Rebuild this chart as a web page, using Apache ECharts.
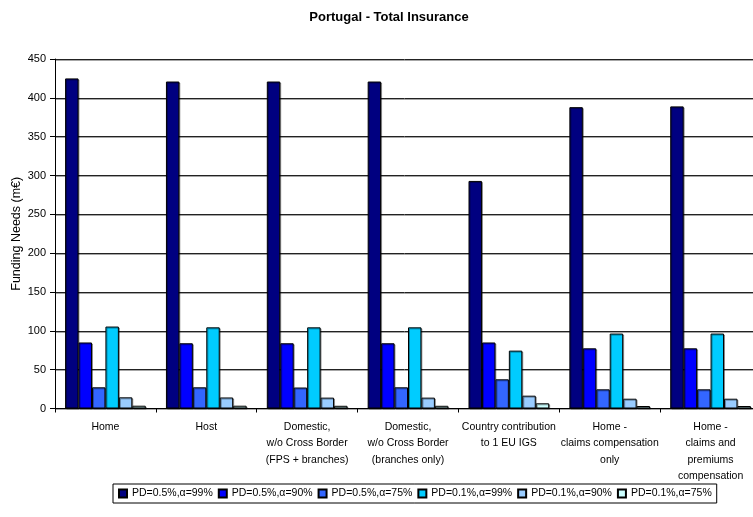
<!DOCTYPE html>
<html>
<head>
<meta charset="utf-8">
<script src="https://cdn.jsdelivr.net/npm/echarts@6/dist/echarts.min.js"></script>
<style>html,body{margin:0;padding:0;background:#fff}#c{width:753px;height:517px}</style>
</head>
<body>
<div id="c"></div>
<script>
var categories = [
  "Home",
  "Host",
  "Domestic,\nw/o Cross Border\n(FPS + branches)",
  "Domestic,\nw/o Cross Border\n(branches only)",
  "Country contribution\nto 1 EU IGS",
  "Home -\nclaims compensation\nonly",
  "Home -\nclaims and\npremiums\ncompensation"
];
var seriesNames = ["PD=0.5%,α=99%", "PD=0.5%,α=90%", "PD=0.5%,α=75%", "PD=0.1%,α=99%", "PD=0.1%,α=90%", "PD=0.1%,α=75%"];
var pd05a99 = [425, 421, 421, 421, 293, 388, 389];
var pd05a90 = [85, 84, 84, 84, 85, 77.5, 77.5];
var pd05a75 = [27.3, 27.3, 27, 27.3, 37.6, 24.7, 24.7];
var pd01a99 = [105.5, 104.5, 104.5, 104.5, 74.5, 96.5, 96.5];
var pd01a90 = [14.4, 14.2, 14, 14, 16.5, 12.6, 12.6];
var pd01a75 = [3.6, 3.6, 3.5, 3.5, 6.7, 3.2, 3.2];
var yTicks = {min: 0, max: 450, interval: 50};

var colors = ["#000080", "#0000FF", "#3366FF", "#00CCFF", "#99CCFF", "#CCFFFF"];
var dataSets = [pd05a99, pd05a90, pd05a75, pd01a99, pd01a90, pd01a75];
var font = "Liberation Sans, Arial, sans-serif";

var chart = echarts.init(document.getElementById('c'), null, {renderer: 'canvas'});
var series = dataSets.map(function (d, i) {
  return {
    name: seriesNames[i],
    type: 'bar',
    data: d,
    barGap: '0%',
    barCategoryGap: '20%',
    itemStyle: {
      color: colors[i],
      borderColor: '#000',
      borderWidth: 1,
      shadowColor: 'rgba(0,0,0,0.35)',
      shadowOffsetX: 1,
      shadowOffsetY: 1,
      shadowBlur: 0
    },
    emphasis: {disabled: true},
    animation: false
  };
});

chart.setOption({
  animation: false,
  backgroundColor: '#fff',
  title: {
    text: 'Portugal - Total Insurance',
    left: 384,
    top: 6,
    textAlign: 'center',
    textStyle: {fontFamily: font, fontSize: 13, fontWeight: 'bold', color: '#000'}
  },
  legend: {
    data: seriesNames,
    left: 113,
    top: 484,
    orient: 'horizontal',
    icon: 'rect',
    itemWidth: 8,
    itemHeight: 8,
    itemGap: 5,
    padding: [4, 5],
    borderColor: '#000',
    borderWidth: 1,
    textStyle: {fontFamily: font, fontSize: 10.5, color: '#000'}
  },
  grid: {left: 55, right: -8, top: 59, bottom: 108.5, containLabel: false, outerBoundsMode: 'none'},
  xAxis: {
    type: 'category',
    data: categories,
    axisLine: {lineStyle: {color: '#000', width: 1}},
    axisTick: {show: true, length: 4, lineStyle: {color: '#000'}},
    axisLabel: {
      interval: 0,
      margin: 10,
      fontFamily: font,
      fontSize: 10.5,
      lineHeight: 16.5,
      color: '#000',
      align: 'center'
    },
    splitLine: {show: false}
  },
  yAxis: {
    type: 'value',
    min: yTicks.min,
    max: yTicks.max,
    interval: yTicks.interval,
    name: 'Funding Needs (m€)',
    nameLocation: 'middle',
    nameGap: 32,
    nameMoveOverlap: false,
    nameTextStyle: {fontFamily: font, fontSize: 12.5, color: '#000'},
    axisLine: {show: true, lineStyle: {color: '#000', width: 1}},
    axisTick: {show: true, length: 5, lineStyle: {color: '#000'}},
    axisLabel: {fontFamily: font, fontSize: 11, color: '#000', margin: 9},
    splitLine: {
      show: true,
      lineStyle: {color: '#222', width: 1, shadowColor: 'rgba(0,0,0,0.35)', shadowOffsetY: 1, shadowBlur: 0}
    }
  },
  series: series
});
</script>
</body>
</html>
